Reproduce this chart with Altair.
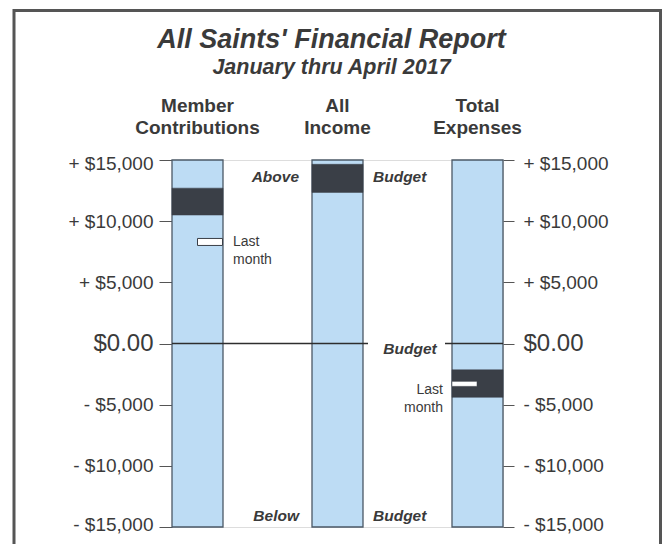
import altair as alt
import pandas as pd

# ---------------- data ----------------
CATEGORIES = ["Member Contributions", "All Income", "Total Expenses"]
ACTUAL_LOW = [10500, 12350, -4400]
ACTUAL_HIGH = [12700, 14650, -2150]
LAST_MONTH = [8300, None, -3300]
SCALE_MIN = -15000
SCALE_MAX = 15000
BUDGET_LEVEL = 0
Y_TICKS = [15000, 10000, 5000, 0, -5000, -10000, -15000]

TITLE = "All Saints' Financial Report"
SUBTITLE = "January thru April 2017"
ABOVE_LABEL = "Above"
BELOW_LABEL = "Below"
BUDGET_LABEL = "Budget"
LAST_LABEL = "Last month"

# ---------------- styles ----------------
FONT = "Liberation Sans"
LIGHT = "#bddcf4"
DARK = "#3a3f47"
BORDER = "#4b5866"
TEXT = "#3a3a3a"
FRAME = "#555555"

df = pd.DataFrame({
    "category": CATEGORIES,
    "low": ACTUAL_LOW,
    "high": ACTUAL_HIGH,
    "last": LAST_MONTH,
    "smin": [SCALE_MIN] * len(CATEGORIES),
    "smax": [SCALE_MAX] * len(CATEGORIES),
})

label_expr = ("datum.value == 0 ? '$0.00' : (datum.value > 0 ? '+ $' : '- $') + "
              "format(abs(datum.value), ',')")
label_size = {"condition": {"test": "datum.value == 0", "value": 24}, "value": 19}
label_off = {"condition": [{"test": "datum.value == 15000", "value": 3},
                           {"test": "datum.value == -15000", "value": -3}], "value": 0}


def y_axis(orient, tick, pad):
    return alt.Axis(orient=orient, values=Y_TICKS, labelExpr=label_expr,
                    labelFont=FONT, labelFontSize=label_size, labelColor=TEXT,
                    labelOffset=label_off, labelFlush=False, labelOverlap=False,
                    tickSize=tick, tickColor=FRAME, tickWidth=1, labelPadding=pad,
                    domain=False, grid=False, title=None)


y_scale = alt.Scale(domain=[SCALE_MIN, SCALE_MAX], nice=False, zero=False)

x_enc = alt.X("category:N", sort=CATEGORIES,
              scale=alt.Scale(paddingInner=0.6357, paddingOuter=0),
              axis=alt.Axis(orient="top", labelExpr="split(datum.label, ' ')",
                            labelFont=FONT, labelFontSize=19, labelFontWeight="bold",
                            labelColor=TEXT, labelLineHeight=22, labelPadding=45,
                            labelAngle=0, labelLimit=300, ticks=False, tickSize=0,
                            domain=False, title=None))

base = alt.Chart(df)

frame = alt.Chart(pd.DataFrame({"f": [0]})).mark_rect(
    fill="transparent", stroke=FRAME, strokeWidth=3
).encode(x=alt.value(-158), x2=alt.value(488.5), y=alt.value(-149.5), y2=alt.value(450))

bg = base.mark_bar(fill=LIGHT, stroke=BORDER, strokeWidth=1.3).encode(
    x=x_enc,
    y=alt.Y("smin:Q", scale=y_scale, axis=y_axis("left", 13, 6)),
    y2="smax:Q",
)

actual = base.mark_bar(fill=DARK, stroke=DARK, strokeWidth=0.5).encode(
    x=x_enc,
    y=alt.Y("low:Q", scale=y_scale, axis=None),
    y2="high:Q",
)

mark_member = base.transform_filter(alt.datum.category == CATEGORIES[0]).mark_tick(
    xOffset=12.5, size=25, thickness=7, fill="white", stroke=DARK, strokeWidth=1, opacity=1
).encode(x=x_enc, y=alt.Y("last:Q", scale=y_scale, axis=None))

mark_exp = base.transform_filter(alt.datum.category == CATEGORIES[2]).mark_tick(
    xOffset=-13, size=25, thickness=5, fill="white", stroke=DARK, strokeWidth=0.5, opacity=1
).encode(x=x_enc, y=alt.Y("last:Q", scale=y_scale, axis=None))

zero_df = pd.DataFrame({"level": [BUDGET_LEVEL], "category": [CATEGORIES[1]]})

zero_rule = alt.Chart(zero_df).mark_rule(color="#2e2e2e", strokeWidth=1.5).encode(
    y=alt.Y("level:Q", scale=y_scale, axis=y_axis("right", 11, 9))
)

white_box = alt.Chart(zero_df).mark_tick(
    xOffset=69, size=77, thickness=12, color="white", opacity=1
).encode(x=x_enc, y=alt.Y("level:Q", scale=y_scale, axis=None))

ann_style = dict(font=FONT, fontSize=15.5, fontStyle="italic", fontWeight="bold",
                 color=TEXT, baseline="alphabetic")

top_df = pd.DataFrame({"category": [CATEGORIES[1]], "level": [SCALE_MAX]})
bot_df = pd.DataFrame({"category": [CATEGORIES[1]], "level": [SCALE_MIN]})

above = alt.Chart(top_df).mark_text(align="right", dx=-38.5, dy=22, **ann_style).encode(
    x=x_enc, y=alt.Y("level:Q", scale=y_scale, axis=None), text=alt.value(ABOVE_LABEL))
budget_top = alt.Chart(top_df).mark_text(align="left", dx=35.5, dy=22, **ann_style).encode(
    x=x_enc, y=alt.Y("level:Q", scale=y_scale, axis=None), text=alt.value(BUDGET_LABEL))
below = alt.Chart(bot_df).mark_text(align="right", dx=-38.5, dy=-6, **ann_style).encode(
    x=x_enc, y=alt.Y("level:Q", scale=y_scale, axis=None), text=alt.value(BELOW_LABEL))
budget_bot = alt.Chart(bot_df).mark_text(align="left", dx=35.5, dy=-6, **ann_style).encode(
    x=x_enc, y=alt.Y("level:Q", scale=y_scale, axis=None), text=alt.value(BUDGET_LABEL))
budget_zero = alt.Chart(zero_df).mark_text(align="center", dx=72.5, dy=10, **ann_style).encode(
    x=x_enc, y=alt.Y("level:Q", scale=y_scale, axis=None), text=alt.value(BUDGET_LABEL))

last_style = dict(font=FONT, fontSize=14, color=TEXT, baseline="alphabetic",
                  lineBreak=" ", lineHeight=18)
last_member = base.transform_filter(alt.datum.category == CATEGORIES[0]).mark_text(
    align="left", dx=35.5, dy=4, **last_style
).encode(x=x_enc, y=alt.Y("last:Q", scale=y_scale, axis=None), text=alt.value(LAST_LABEL))
last_exp = base.transform_filter(alt.datum.category == CATEGORIES[2]).mark_text(
    align="right", dx=-34.5, dy=10, **last_style
).encode(x=x_enc, y=alt.Y("last:Q", scale=y_scale, axis=None), text=alt.value(LAST_LABEL))

chart = alt.layer(
    frame, bg, actual, mark_member, mark_exp, zero_rule, white_box,
    above, budget_top, below, budget_bot, budget_zero, last_member, last_exp
).resolve_scale(y="independent").properties(
    width=331, height=367,
    padding={"left": 172, "top": 160, "right": 164, "bottom": 17},
    autosize=alt.AutoSizeParams(type="none"),
    title=alt.TitleParams(
        text=TITLE, subtitle=SUBTITLE, anchor="middle", offset=-70, dx=-6,
        font=FONT, fontSize=27, fontStyle="italic", fontWeight="bold", color=TEXT,
        subtitleFont=FONT, subtitleFontSize=21.5, subtitleFontStyle="italic",
        subtitleFontWeight="bold", subtitleColor=TEXT, subtitlePadding=3,
    ),
).configure_view(stroke=BORDER, strokeWidth=1.5).configure(background="white")

chart.save("out.html", embed_options={"renderer": "svg", "actions": False})
